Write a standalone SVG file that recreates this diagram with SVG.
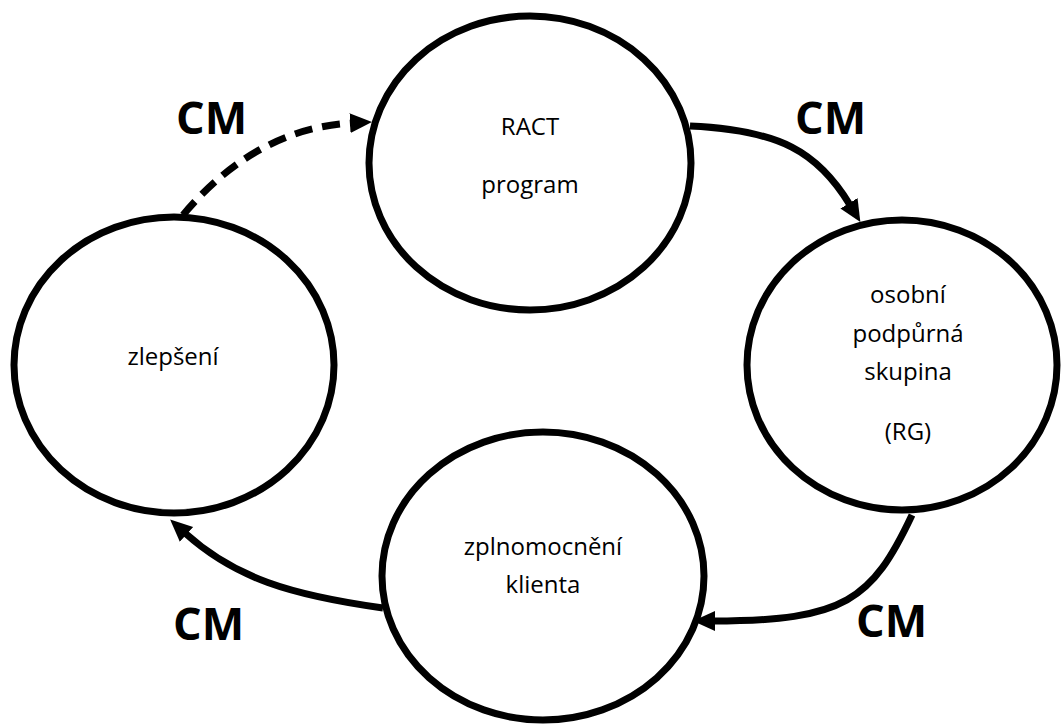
<svg xmlns="http://www.w3.org/2000/svg" width="1061" height="724" viewBox="0 0 1061 724">
<style>
.node ellipse{fill:#fff;stroke:#000;stroke-width:7}
.lbl{font-family:"Open Sans","Liberation Sans",sans-serif;font-size:24px;fill:#000;text-anchor:middle}
.cm{font-family:"Open Sans","Liberation Sans",sans-serif;font-size:45px;font-weight:bold;fill:#000}
.conn path{fill:none;stroke:#000;stroke-width:7}
</style>
<defs>
<marker id="ah" markerUnits="userSpaceOnUse" markerWidth="24" markerHeight="22" refX="2" refY="10" orient="auto" viewBox="0 0 24 20">
<path d="M0,0 L22,10 L0,20 Z" fill="#000"/>
</marker>
</defs>
<rect width="1061" height="724" fill="#fff"/>
<g class="conn" id="connectors">
<path d="M183,215 C225,165 280,127 352,123" stroke-dasharray="18,10" marker-end="url(#ah)"/>
<path d="M690,126 C780,130 818,152 850,205" marker-end="url(#ah)"/>
<path d="M912,515 C872,600 845,621 713,621" marker-end="url(#ah)"/>
<path d="M383,608 C290,595 235,578 185,533" marker-end="url(#ah)"/>
</g>
<g class="node" id="n-ract">
<ellipse cx="530" cy="163" rx="161" ry="147"/>
<text class="lbl" x="530" y="135">RACT</text>
<text class="lbl" x="530" y="193">program</text>
</g>
<g class="node" id="n-rg">
<ellipse cx="902" cy="365" rx="155" ry="145"/>
<text class="lbl" x="908" y="303">osobní</text>
<text class="lbl" x="908" y="342">podpůrná</text>
<text class="lbl" x="908" y="380">skupina</text>
<text class="lbl" x="908" y="440">(RG)</text>
</g>
<g class="node" id="n-zlepseni">
<ellipse cx="174" cy="365" rx="160" ry="148"/>
<text class="lbl" x="173" y="365">zlepšení</text>
</g>
<g class="node" id="n-klient">
<ellipse cx="543" cy="576" rx="161" ry="144"/>
<text class="lbl" x="543" y="555">zplnomocnění</text>
<text class="lbl" x="543" y="593">klienta</text>
</g>
<g id="labels">
<text class="cm" x="176" y="134">CM</text>
<text class="cm" x="795" y="134">CM</text>
<text class="cm" x="856" y="637">CM</text>
<text class="cm" x="173" y="640">CM</text>
</g>
</svg>
